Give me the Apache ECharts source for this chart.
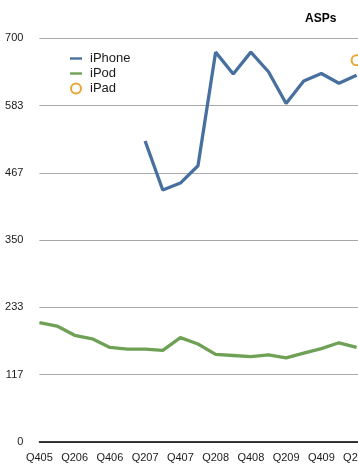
<!DOCTYPE html>
<html>
<head>
<meta charset="utf-8">
<script src="https://cdn.jsdelivr.net/npm/echarts@6/dist/echarts.min.js"></script>
<style>html,body{margin:0;padding:0;background:#fff;}#c{width:358px;height:474px;}</style>
</head>
<body>
<div id="c"></div>
<script>
const categories = ['Q405','Q106','Q206','Q306','Q406','Q107','Q207','Q307','Q407','Q108','Q208','Q308','Q408','Q109','Q209','Q309','Q409','Q110','Q210','Q310'];
const iphone = [null,null,null,null,null,null,522,437,449,479,676,638,676,642,587,626,639,622,636,null];
const ipod = [207,201,185,179,164,161,161,159,181,170,152,150,148,151,146,154,162,172,164,null];
const ipad = [null,null,null,null,null,null,null,null,null,null,null,null,null,null,null,null,null,null,662,null];
const yTicks = [0,117,233,350,467,583,700];

const chart = echarts.init(document.getElementById('c'), null, {renderer:'canvas'});
const font = 'Liberation Sans, Arial, Helvetica, sans-serif';
const lineIcon = 'path://M0,0H12V2.4H0Z';
chart.setOption({
  animation:false,
  backgroundColor:'#fff',
  title:{text:'ASPs', left:305, top:13, padding:0, textStyle:{fontFamily:font, fontSize:12, fontWeight:'bold', color:'#000'}},
  legend:{
    orient:'vertical', left:65, top:47, itemWidth:12, itemHeight:10, itemGap:2,
    textStyle:{fontFamily:font, fontSize:13, color:'#1a1a1a', padding:[0,0,0,3]},
    data:[{name:'iPhone', icon:lineIcon},{name:'iPod', icon:lineIcon},{name:'iPad', icon:'emptyCircle'}]
  },
  grid:{left:39.4, right:-16.2, top:38.3, bottom:32, outerBoundsMode:'none', containLabel:false},
  xAxis:{
    type:'category', data:categories, boundaryGap:false,
    axisLine:{lineStyle:{color:'#000', width:1.5}},
    axisTick:{show:false},
    axisLabel:{interval:1, margin:10, fontFamily:font, fontSize:11, color:'#1a1a1a', hideOverlap:false},
    splitLine:{show:false}
  },
  yAxis:{
    type:'value', min:0, max:700, interval:700/6,
    axisLine:{show:false}, axisTick:{show:false},
    axisLabel:{margin:16, fontFamily:font, fontSize:11, color:'#1a1a1a',
      formatter:function(v){ let best=yTicks[0]; yTicks.forEach(t=>{ if(Math.abs(t-v)<Math.abs(best-v)) best=t; }); return String(best); }},
    splitLine:{lineStyle:{color:'#aaaaaa', width:1}}
  },
  series:[
    {name:'iPhone', type:'line', data:iphone, symbol:'none', color:'#48709f', lineStyle:{width:3.3, color:'#48709f'}},
    {name:'iPod', type:'line', data:ipod, symbol:'none', color:'#6ea155', lineStyle:{width:3.3, color:'#6ea155'}},
    {name:'iPad', type:'line', data:ipad, symbol:'emptyCircle', symbolSize:10, color:'#e9a63a', lineStyle:{width:0}, itemStyle:{color:'#e9a63a', borderWidth:3}}
  ]
});
</script>
</body>
</html>
